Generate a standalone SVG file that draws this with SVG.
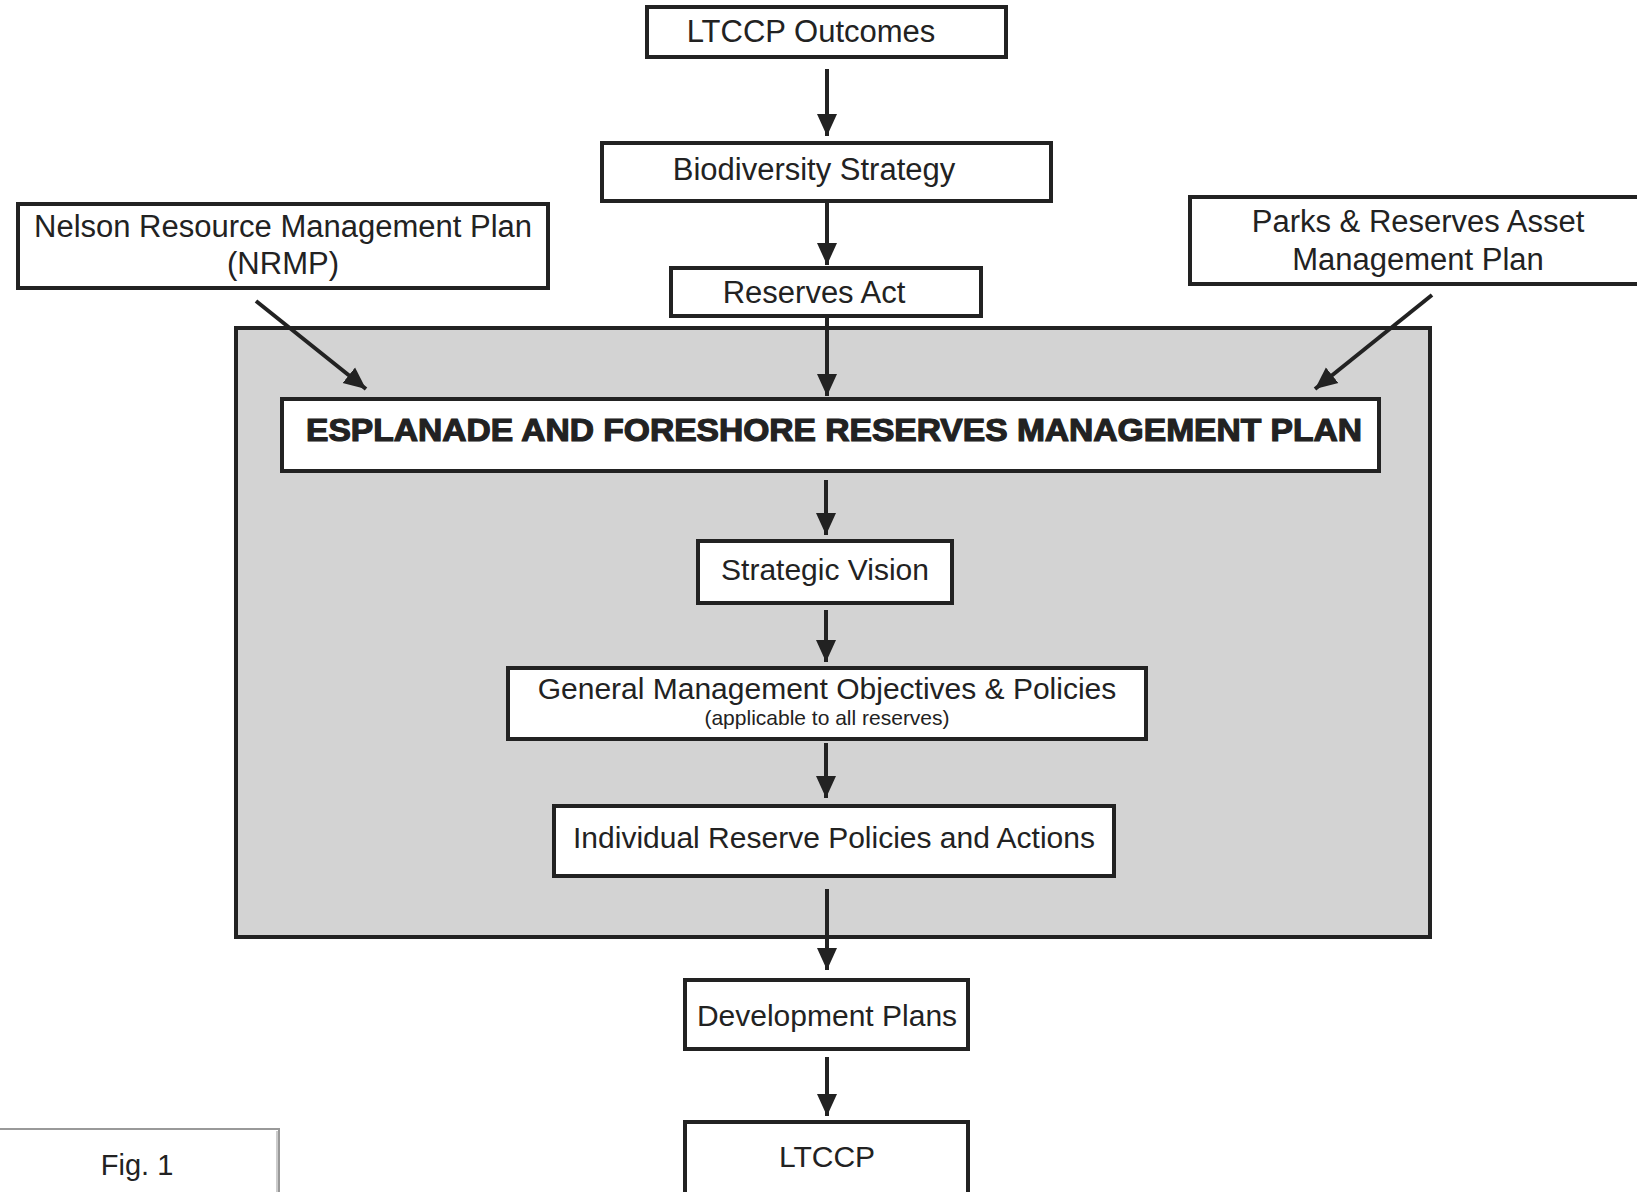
<svg xmlns="http://www.w3.org/2000/svg" width="1637" height="1192" viewBox="0 0 1637 1192">
<defs>
<marker id="ah" markerUnits="userSpaceOnUse" markerWidth="22" markerHeight="24" viewBox="0 0 22 24" refX="22" refY="12" orient="auto">
<path d="M0,2 L22,12 L0,22 Z" fill="#222"/>
</marker>
</defs>
<style>
.box{fill:#fff;stroke:#222;stroke-width:4}
.t{font-family:"Liberation Sans",Arial,sans-serif;font-size:31px;fill:#222;text-anchor:middle}
.n{font-size:30px}
.s{font-size:21px}
.b{font-weight:bold;font-size:32px;stroke:#222;stroke-width:1.2}
.c{stroke:#222;stroke-width:4;fill:none;marker-end:url(#ah)}
</style>
<rect width="1637" height="1192" fill="#fff"/>
<g id="container">
<rect x="236" y="328" width="1194" height="609" fill="#d3d3d3" stroke="#222" stroke-width="4"/>
</g>
<g id="n-ltccp-outcomes">
<rect class="box" x="647" y="7" width="359" height="50"/>
<text class="t" x="811" y="42">LTCCP Outcomes</text>
</g>
<g id="n-biodiversity">
<rect class="box" x="602" y="143" width="449" height="58"/>
<text class="t" x="814" y="180">Biodiversity Strategy</text>
</g>
<g id="n-reserves-act">
<rect class="box" x="671" y="268" width="310" height="48"/>
<text class="t" x="814" y="303">Reserves Act</text>
</g>
<g id="n-nrmp">
<rect class="box" x="18" y="204" width="530" height="84"/>
<text class="t" x="283" y="237">Nelson Resource Management Plan</text>
<text class="t" x="283" y="274">(NRMP)</text>
</g>
<g id="n-parks">
<rect class="box" x="1190" y="197" width="460" height="87"/>
<text class="t" x="1418" y="232">Parks &amp; Reserves Asset</text>
<text class="t" x="1418" y="270">Management Plan</text>
</g>
<g id="n-esplanade">
<rect class="box" x="282" y="399" width="1097" height="72"/>
<text class="t b" x="834" y="441" textLength="1056" lengthAdjust="spacingAndGlyphs">ESPLANADE AND FORESHORE RESERVES MANAGEMENT PLAN</text>
</g>
<g id="n-strategic-vision">
<rect class="box" x="698" y="541" width="254" height="62"/>
<text class="t n" x="825" y="580">Strategic Vision</text>
</g>
<g id="n-general">
<rect class="box" x="508" y="668" width="638" height="71"/>
<text class="t n" x="827" y="699">General Management Objectives &amp; Policies</text>
<text class="t s" x="827" y="725">(applicable to all reserves)</text>
</g>
<g id="n-individual">
<rect class="box" x="554" y="806" width="560" height="70"/>
<text class="t n" x="834" y="848">Individual Reserve Policies and Actions</text>
</g>
<g id="n-development">
<rect class="box" x="685" y="980" width="283" height="69"/>
<text class="t n" x="827" y="1026">Development Plans</text>
</g>
<g id="n-ltccp">
<rect class="box" x="685" y="1122" width="283" height="72"/>
<text class="t n" x="827" y="1167">LTCCP</text>
</g>
<g id="fig-label">
<rect x="-2" y="1129" width="281" height="70" fill="#fff" stroke="#999" stroke-width="2"/>
<line x1="277" y1="1131" x2="277" y2="1192" stroke="#ccc" stroke-width="2"/>
<text class="t" x="137" y="1175" style="font-size:29px">Fig. 1</text>
</g>
<g id="connectors">
<line class="c" x1="827" y1="69" x2="827" y2="136"/>
<line class="c" x1="827" y1="201" x2="827" y2="265"/>
<line class="c" x1="827" y1="318" x2="827" y2="396"/>
<line class="c" x1="256" y1="301" x2="366" y2="389"/>
<line class="c" x1="1432" y1="295" x2="1315" y2="389"/>
<line class="c" x1="826" y1="480" x2="826" y2="535"/>
<line class="c" x1="826" y1="610" x2="826" y2="662"/>
<line class="c" x1="826" y1="743" x2="826" y2="798"/>
<line class="c" x1="827" y1="889" x2="827" y2="970"/>
<line class="c" x1="827" y1="1057" x2="827" y2="1116"/>
</g>
</svg>
